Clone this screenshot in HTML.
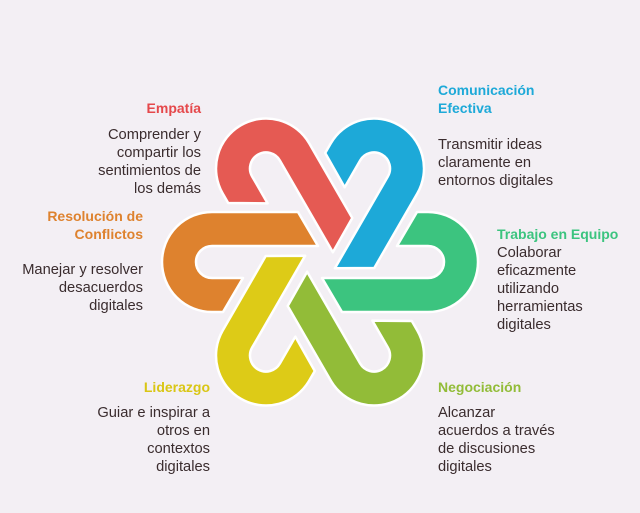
<!DOCTYPE html>
<html><head><meta charset="utf-8"><style>
body{margin:0;width:640px;height:513px;background:#F3EFF4;position:relative;overflow:hidden;font-family:"Liberation Sans",sans-serif}
.t{position:absolute;font-size:14.7px;line-height:18px;color:#3a2c2e;white-space:nowrap}
.h{font-weight:bold;font-size:14px}
.r{text-align:right}
svg{position:absolute;left:0;top:0}
</style></head><body>
<svg width="640" height="513">
<defs>
<path id="p" d="M298,212 L212,212 A50,50 0 0 0 212,312 L223,312 L243,278 L212,278 A16,16 0 0 1 212,246 L318,246 Z" stroke="#fff" stroke-width="2.5" stroke-linejoin="round"/>
</defs>
<use href="#p" fill="#DE822E"/>
<use href="#p" fill="#E55A53" transform="rotate(60 320 262)"/>
<use href="#p" fill="#1DA9D8" transform="rotate(120 320 262)"/>
<use href="#p" fill="#3CC47F" transform="rotate(180 320 262)"/>
<use href="#p" fill="#92BC38" transform="rotate(240 320 262)"/>
<use href="#p" fill="#DDCB17" transform="rotate(300 320 262)"/>
</svg>
<div class="t h r" style="right:439px;top:99px;color:#E5484B">Empatía</div>
<div class="t r" style="right:439px;top:126px">Comprender y<br>compartir los<br>sentimientos de<br>los demás</div>
<div class="t h r" style="right:497px;top:207px;color:#DE822E">Resolución de<br>Conflictos</div>
<div class="t r" style="right:497px;top:261px">Manejar y resolver<br>desacuerdos<br>digitales</div>
<div class="t h r" style="right:430px;top:378px;color:#D9C614">Liderazgo</div>
<div class="t r" style="right:430px;top:404px">Guiar e inspirar a<br>otros en<br>contextos<br>digitales</div>
<div class="t h" style="left:438px;top:81px;color:#1DA9D8">Comunicación<br>Efectiva</div>
<div class="t" style="left:438px;top:136px">Transmitir ideas<br>claramente en<br>entornos digitales</div>
<div class="t h" style="left:497px;top:225px;color:#3CC47F">Trabajo en Equipo</div>
<div class="t" style="left:497px;top:244px">Colaborar<br>eficazmente<br>utilizando<br>herramientas<br>digitales</div>
<div class="t h" style="left:438px;top:378px;color:#92BC38">Negociación</div>
<div class="t" style="left:438px;top:404px">Alcanzar<br>acuerdos a través<br>de discusiones<br>digitales</div>
</body></html>
